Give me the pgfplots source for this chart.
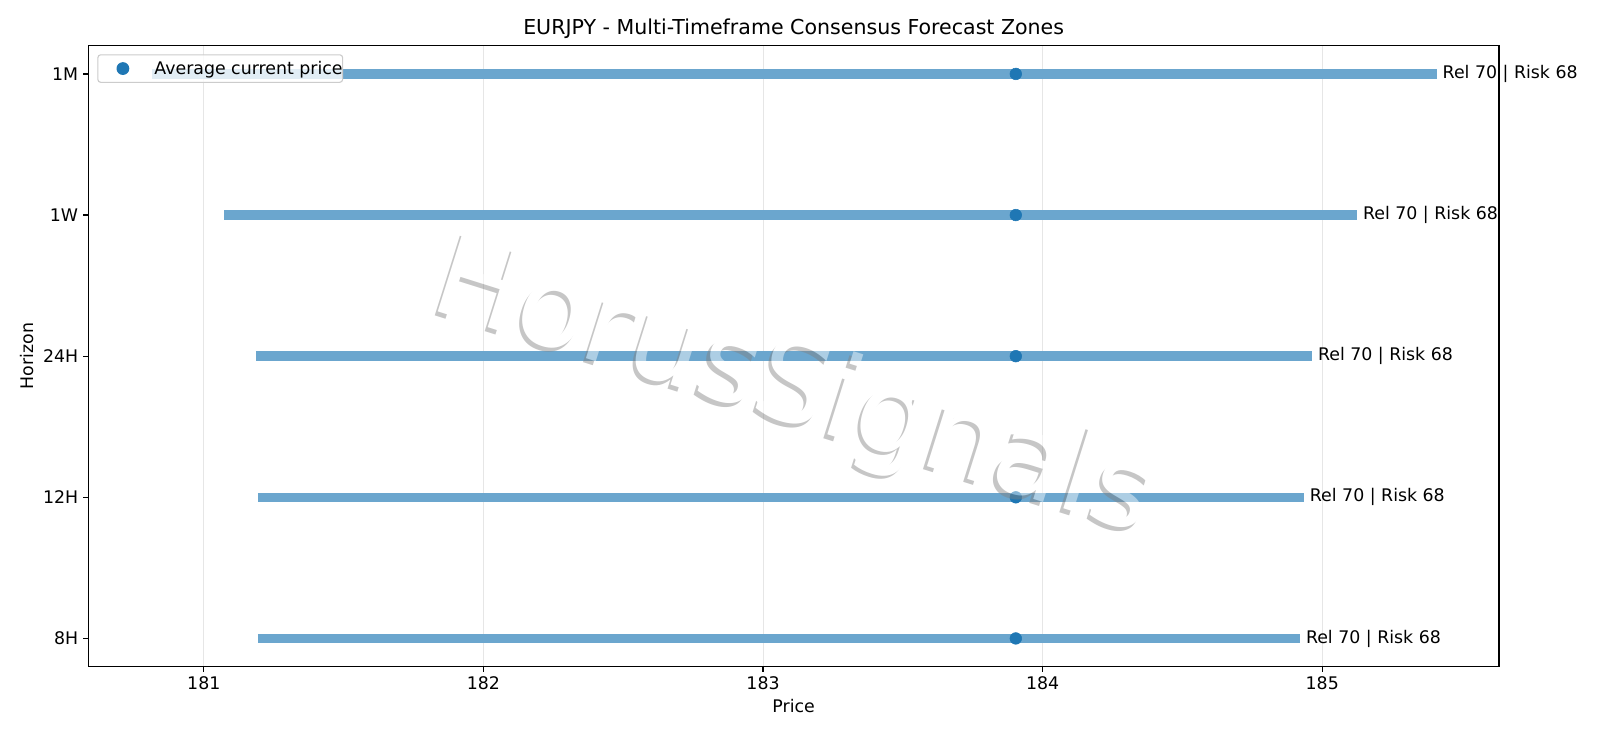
\documentclass[border=0pt]{standalone}
\usepackage{fontspec}
\setmainfont{DejaVu Sans}
\usepackage{pgfplots}
\pgfplotsset{compat=1.18}

\definecolor{c0}{RGB}{31,119,180}
\definecolor{barblue}{RGB}{107,166,206}
\definecolor{gridgray}{RGB}{230,230,230}
\definecolor{legedge}{RGB}{204,204,204}

\newcommand{\tickfont}{\fontsize{12.5}{15}\selectfont}

\pgfplotsset{
  zone/.style={barblue, line width=6.8pt, line cap=butt, forget plot},
}

\begin{document}
\begin{tikzpicture}
\useasboundingbox (-63.6pt,-51.3pt) rectangle (1088.4pt,480.0pt);
\begin{axis}[
  at={(0,0)}, anchor=south west,
  scale only axis,
  width=1015.7pt, height=447.1pt,
  xmin=180.587, xmax=185.632,
  ymin=-0.2, ymax=4.2,
  xtick={181,182,183,184,185},
  ytick={0,1,2,3,4},
  yticklabels={8H,12H,24H,1W,1M},
  tick pos=left,
  tick align=outside,
  major tick length=3.8pt,
  every tick/.style={black, line width=0.86pt},
  axis line style={line width=0.86pt},
  xmajorgrids,
  grid style={gridgray, line width=0.72pt},
  /pgf/number format/assume math mode=true,
  /pgf/number format/1000 sep={},
  tick label style={font=\tickfont},
  xticklabel style={inner sep=0.35em},
  every axis title/.style={at={(axis description cs:0.5,1)}, anchor=base,
    yshift=8.2pt, inner sep=0pt, font=\fontsize{14.8}{18}\selectfont},
  title={EURJPY - Multi-Timeframe Consensus Forecast Zones},
  xlabel={Price},
  xlabel style={at={(axis description cs:0.5,-0.0637)}, anchor=center,
    inner sep=0pt, font=\tickfont},
  ylabel={Horizon},
  ylabel style={at={(axis description cs:-0.0434,0.5)}, anchor=center,
    inner sep=0pt, font=\tickfont},
  legend style={
    at={(axis description cs:0.0064,0.9862)}, anchor=north west,
    draw=legedge, line width=0.8pt, rounded corners=2pt,
    fill=white, fill opacity=0.8, text opacity=1, draw opacity=1,
    inner sep=0pt,
    nodes={inner xsep=0pt, inner ysep=4.4pt},
    /tikz/column sep=9.9pt,
    font=\tickfont,
  },
  legend cell align=left,
  clip=false,
]

% forecast zones, low to high
\addplot[zone] coordinates {(181.193,0) (184.920,0)};
\addplot[zone] coordinates {(181.193,1) (184.934,1)};
\addplot[zone] coordinates {(181.186,2) (184.963,2)};
\addplot[zone] coordinates {(181.073,3) (185.124,3)};
\addplot[zone] coordinates {(180.814,4) (185.409,4)};

% average current price
\addplot[only marks, mark=*, mark size=4.2pt, c0,
  legend image code/.code={\path (0pt,-4.2pt) (30pt,4.2pt);
    \fill[c0, fill opacity=1] (17.6pt,0) circle (4.2pt);}]
  coordinates {(183.904,0) (183.904,1) (183.904,2) (183.904,3) (183.904,4)};
\addlegendentry{Average current price\hspace{4.3pt}}

\node[anchor=west, inner sep=0pt, xshift=4.2pt, font=\tickfont] at (axis cs:184.920,0) {Rel 70 | Risk 68};
\node[anchor=west, inner sep=0pt, xshift=4.2pt, font=\tickfont] at (axis cs:184.934,1) {Rel 70 | Risk 68};
\node[anchor=west, inner sep=0pt, xshift=4.2pt, font=\tickfont] at (axis cs:184.963,2) {Rel 70 | Risk 68};
\node[anchor=west, inner sep=0pt, xshift=4.2pt, font=\tickfont] at (axis cs:185.124,3) {Rel 70 | Risk 68};
\node[anchor=west, inner sep=0pt, xshift=4.2pt, font=\tickfont] at (axis cs:185.409,4) {Rel 70 | Risk 68};

\coordinate (wm) at (rel axis cs:0.500,0.444);
\end{axis}

% watermark with drop shadow
\begin{scope}[transparency group, opacity=0.45]
  \node[rotate=-17.5, text=black!50, font=\fontsize{82.5}{100}\selectfont]
    at ([shift={(-2.5pt,-2.5pt)}]wm) {HorusSignals};
  \node[rotate=-17.5, text=white, font=\fontsize{82.5}{100}\selectfont]
    at (wm) {HorusSignals};
\end{scope}
\end{tikzpicture}
\end{document}
